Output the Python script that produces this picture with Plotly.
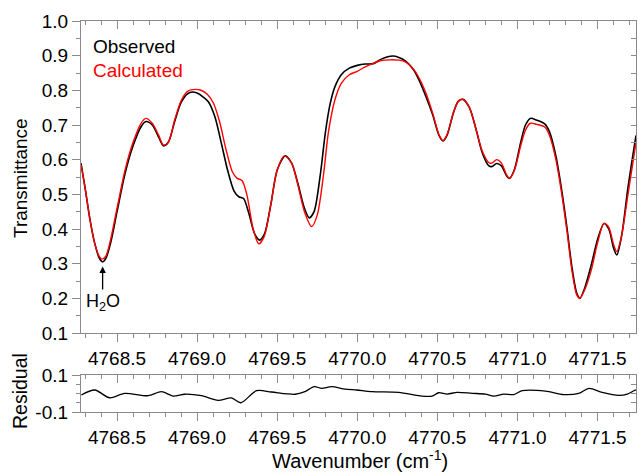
import plotly.graph_objects as go

# ---------------- data ----------------
obs_x = [4768.275, 4768.30, 4768.33, 4768.36, 4768.39, 4768.41, 4768.43, 4768.46, 4768.50, 4768.55,
         4768.60, 4768.65, 4768.68, 4768.72, 4768.76, 4768.79, 4768.82, 4768.86, 4768.90, 4768.94,
         4768.97, 4769.00, 4769.04, 4769.07, 4769.11, 4769.15, 4769.19, 4769.23, 4769.26, 4769.29,
         4769.32, 4769.36, 4769.39, 4769.42, 4769.46, 4769.50, 4769.55, 4769.59, 4769.63, 4769.67,
         4769.70, 4769.73, 4769.77, 4769.80, 4769.83, 4769.86, 4769.90, 4769.95, 4770.00, 4770.05,
         4770.10, 4770.15, 4770.22, 4770.26, 4770.30, 4770.35, 4770.39, 4770.43, 4770.47, 4770.51,
         4770.535, 4770.56, 4770.60, 4770.63, 4770.66, 4770.70, 4770.74, 4770.78, 4770.82, 4770.84,
         4770.87, 4770.90, 4770.93, 4770.95, 4770.98, 4771.02, 4771.05, 4771.08, 4771.12, 4771.17,
         4771.20, 4771.24, 4771.28, 4771.31, 4771.34, 4771.37, 4771.39, 4771.42, 4771.46, 4771.50,
         4771.54, 4771.57, 4771.60, 4771.62, 4771.65, 4771.69, 4771.74]
obs_y = [0.590, 0.520, 0.430, 0.360, 0.315, 0.305, 0.315, 0.360, 0.450, 0.560,
         0.640, 0.695, 0.710, 0.700, 0.665, 0.640, 0.650, 0.710, 0.765, 0.790,
         0.795, 0.792, 0.780, 0.767, 0.725, 0.650, 0.570, 0.510, 0.493, 0.488,
         0.450, 0.385, 0.368, 0.385, 0.470, 0.570, 0.611, 0.590, 0.530, 0.460,
         0.432, 0.450, 0.560, 0.676, 0.760, 0.810, 0.845, 0.864, 0.872, 0.876,
         0.877, 0.890, 0.899, 0.895, 0.885, 0.860, 0.825, 0.780, 0.730, 0.670,
         0.654, 0.670, 0.735, 0.768, 0.774, 0.750, 0.690, 0.620, 0.583, 0.580,
         0.589, 0.582, 0.555, 0.546, 0.570, 0.650, 0.700, 0.719, 0.714, 0.703,
         0.680, 0.610, 0.500, 0.400, 0.290, 0.215, 0.200, 0.230, 0.295, 0.370,
         0.416, 0.400, 0.345, 0.325, 0.380, 0.520, 0.670]

calc_x = [4768.275, 4768.30, 4768.33, 4768.36, 4768.39, 4768.405, 4768.43, 4768.46, 4768.50, 4768.55,
          4768.60, 4768.65, 4768.68, 4768.72, 4768.76, 4768.79, 4768.82, 4768.86, 4768.90, 4768.94,
          4768.97, 4769.02, 4769.06, 4769.10, 4769.14, 4769.18, 4769.22, 4769.25, 4769.28, 4769.31,
          4769.35, 4769.385, 4769.42, 4769.46, 4769.50, 4769.545, 4769.59, 4769.63, 4769.67, 4769.715,
          4769.75, 4769.79, 4769.82, 4769.86, 4769.90, 4769.95, 4770.00, 4770.05, 4770.10, 4770.15,
          4770.20, 4770.26, 4770.30, 4770.35, 4770.39, 4770.43, 4770.47, 4770.51, 4770.535, 4770.56,
          4770.60, 4770.63, 4770.66, 4770.70, 4770.74, 4770.78, 4770.82, 4770.84, 4770.87, 4770.90,
          4770.93, 4770.95, 4770.98, 4771.02, 4771.05, 4771.08, 4771.12, 4771.17, 4771.20, 4771.24,
          4771.28, 4771.31, 4771.34, 4771.37, 4771.39, 4771.42, 4771.46, 4771.50, 4771.54, 4771.57,
          4771.60, 4771.62, 4771.65, 4771.69, 4771.74]
calc_y = [0.585, 0.520, 0.430, 0.360, 0.320, 0.313, 0.322, 0.370, 0.460, 0.570,
          0.650, 0.705, 0.719, 0.705, 0.670, 0.642, 0.650, 0.715, 0.770, 0.797,
          0.802, 0.801, 0.790, 0.765, 0.710, 0.630, 0.565, 0.546, 0.540, 0.500,
          0.400, 0.357, 0.380, 0.470, 0.570, 0.611, 0.590, 0.525, 0.450, 0.407,
          0.440, 0.560, 0.680, 0.772, 0.820, 0.845, 0.855, 0.868, 0.878, 0.886,
          0.888, 0.887, 0.882, 0.862, 0.832, 0.790, 0.735, 0.672, 0.655, 0.672,
          0.735, 0.768, 0.774, 0.750, 0.690, 0.625, 0.592, 0.590, 0.600, 0.590,
          0.558, 0.546, 0.568, 0.640, 0.685, 0.705, 0.702, 0.694, 0.670, 0.600,
          0.490, 0.390, 0.280, 0.210, 0.200, 0.225, 0.280, 0.360, 0.416, 0.405,
          0.355, 0.335, 0.380, 0.500, 0.650]

res_x = [4768.277, 4768.361, 4768.454, 4768.548, 4768.694, 4768.777, 4768.850, 4768.923, 4769.027, 4769.131,
         4769.214, 4769.273, 4769.371, 4769.464, 4769.611, 4769.673, 4769.731, 4769.777, 4769.839, 4769.923,
         4769.996, 4770.092, 4770.258, 4770.404, 4770.467, 4770.508, 4770.561, 4770.623, 4770.717, 4770.800,
         4770.852, 4770.914, 4770.977, 4771.029, 4771.175, 4771.289, 4771.383, 4771.446, 4771.529, 4771.633,
         4771.686, 4771.727, 4771.740]
res_y = [-0.008, 0.019, -0.023, 0.001, -0.012, 0.010, -0.014, -0.004, -0.012, -0.037,
         -0.024, -0.050, 0.015, 0.008, -0.004, 0.010, 0.037, 0.028, 0.037, 0.024,
         0.019, 0.010, 0.006, -0.014, -0.014, 0.004, -0.003, 0.006, 0.001, -0.003,
         -0.014, -0.003, -0.006, 0.015, 0.013, -0.006, 0.001, 0.028, 0.006, -0.010,
         -0.003, 0.015, 0.020]

x_range = [4768.275, 4771.74]
x_ticks = [4768.5, 4769.0, 4769.5, 4770.0, 4770.5, 4771.0, 4771.5]
x_ticklabels = ["4768.5", "4769.0", "4769.5", "4770.0", "4770.5", "4771.0", "4771.5"]
t_range = [0.1, 1.0]
t_ticks = [0.1, 0.2, 0.3, 0.4, 0.5, 0.6, 0.7, 0.8, 0.9, 1.0]
t_ticklabels = ["0.1", "0.2", "0.3", "0.4", "0.5", "0.6", "0.7", "0.8", "0.9", "1.0"]
r_range = [-0.1, 0.1]
r_ticks = [-0.1, 0.1]
r_ticklabels = ["-0.1", "0.1"]

# ---------------- styling ----------------
FONT = "Liberation Sans, Arial, sans-serif"
AX = "#8a8a8a"
TICKFONT = dict(family=FONT, size=19, color="black")

W, H = 639, 473
L, R, T, B = 81, 3, 21, 61
plot_h = H - T - B
top_dom = [(412 - 333) / plot_h, 1.0]
res_dom = [0.0, (412 - 375) / plot_h]

fig = go.Figure()
fig.add_trace(go.Scatter(x=obs_x, y=obs_y, mode="lines", name="Observed",
                         line=dict(color="black", width=1.6, shape="spline", smoothing=0.8),
                         xaxis="x", yaxis="y", showlegend=False))
fig.add_trace(go.Scatter(x=calc_x, y=calc_y, mode="lines", name="Calculated",
                         line=dict(color="#ff0000", width=1.4, shape="spline", smoothing=0.8),
                         xaxis="x", yaxis="y", showlegend=False))
fig.add_trace(go.Scatter(x=res_x, y=res_y, mode="lines", name="Residual",
                         line=dict(color="black", width=1.3, shape="spline", smoothing=0.8),
                         xaxis="x2", yaxis="y2", showlegend=False))
# transparent helpers so the mirrored inner-tick axes get drawn
fig.add_trace(go.Scatter(x=obs_x, y=obs_y, mode="lines", opacity=0, hoverinfo="skip",
                         xaxis="x3", yaxis="y3", showlegend=False))
fig.add_trace(go.Scatter(x=res_x, y=res_y, mode="lines", opacity=0, hoverinfo="skip",
                         xaxis="x4", yaxis="y4", showlegend=False))

common_x = dict(range=x_range, showgrid=False, zeroline=False, showline=True, linecolor=AX,
                linewidth=1.2, tickcolor=AX, tickwidth=1.2)
common_y = dict(showgrid=False, zeroline=False, showline=True, linecolor=AX,
                linewidth=1.2, tickcolor=AX, tickwidth=1.2)

fig.update_layout(
    width=W, height=H,
    margin=dict(l=L, r=R, t=T, b=B),
    paper_bgcolor="white", plot_bgcolor="white",
    font=dict(family=FONT, size=19, color="black"),
    xaxis=dict(**common_x, anchor="y", domain=[0, 1], side="bottom",
               tickmode="array", tickvals=x_ticks, ticktext=x_ticklabels,
               ticks="outside", ticklen=8, tickfont=TICKFONT,
               minor=dict(dtick=0.1, tick0=4768.0, ticks="outside", ticklen=4, tickcolor=AX, tickwidth=1.2)),
    yaxis=dict(**common_y, range=t_range, anchor="x", domain=top_dom, side="left",
               tickmode="array", tickvals=t_ticks, ticktext=t_ticklabels,
               ticks="outside", ticklen=8, tickfont=TICKFONT,
               minor=dict(dtick=0.05, tick0=0, ticks="outside", ticklen=4, tickcolor=AX, tickwidth=1.2)),
    xaxis3=dict(**common_x, overlaying="x", anchor="y", side="top",
                tickmode="array", tickvals=x_ticks, showticklabels=False,
                ticks="inside", ticklen=8,
                minor=dict(dtick=0.1, tick0=4768.0, ticks="inside", ticklen=4, tickcolor=AX, tickwidth=1.2)),
    yaxis3=dict(**common_y, range=t_range, overlaying="y", anchor="x", side="right",
                dtick=0.05, tick0=0, showticklabels=False, ticks="inside", ticklen=5),
    xaxis2=dict(**common_x, anchor="y2", domain=[0, 1], side="bottom",
                tickmode="array", tickvals=x_ticks, ticktext=x_ticklabels,
                ticks="outside", ticklen=8, tickfont=TICKFONT,
                minor=dict(dtick=0.1, tick0=4768.0, ticks="outside", ticklen=4, tickcolor=AX, tickwidth=1.2)),
    yaxis2=dict(**common_y, range=r_range, anchor="x2", domain=res_dom, side="left",
                tickmode="array", tickvals=r_ticks, ticktext=r_ticklabels,
                ticks="outside", ticklen=8, tickfont=TICKFONT,
                minor=dict(dtick=0.05, tick0=0, ticks="outside", ticklen=4, tickcolor=AX, tickwidth=1.2)),
    xaxis4=dict(**common_x, overlaying="x2", anchor="y2", side="top",
                tickmode="array", tickvals=x_ticks, showticklabels=False,
                ticks="inside", ticklen=8,
                minor=dict(dtick=0.1, tick0=4768.0, ticks="inside", ticklen=4, tickcolor=AX, tickwidth=1.2)),
    yaxis4=dict(**common_y, range=r_range, overlaying="y2", anchor="x2", side="right",
                dtick=0.05, tick0=0, showticklabels=False, ticks="inside", ticklen=5),
)

def px_to_paper_x(px):
    return (px - L) / (W - L - R)

def py_to_paper_y(py):
    return (H - B - py) / plot_h

annotations = [
    dict(text="Observed", x=px_to_paper_x(91), y=py_to_paper_y(46), xref="paper", yref="paper",
         xanchor="left", yanchor="middle", showarrow=False, font=dict(family=FONT, size=19, color="black")),
    dict(text="Calculated", x=px_to_paper_x(91), y=py_to_paper_y(70), xref="paper", yref="paper",
         xanchor="left", yanchor="middle", showarrow=False, font=dict(family=FONT, size=19, color="#ff0000")),
    dict(text="Transmittance", x=px_to_paper_x(20), y=py_to_paper_y(178), xref="paper", yref="paper",
         xanchor="center", yanchor="middle", textangle=-90, showarrow=False,
         font=dict(family=FONT, size=19, color="black")),
    dict(text="Residual", x=px_to_paper_x(20), y=py_to_paper_y(391), xref="paper", yref="paper",
         xanchor="center", yanchor="middle", textangle=-90, showarrow=False,
         font=dict(family=FONT, size=19.5, color="black")),
    dict(text="Wavenumber (cm<sup>-1</sup>)", x=px_to_paper_x(360), y=py_to_paper_y(459),
         xref="paper", yref="paper", xanchor="center", yanchor="middle", showarrow=False,
         font=dict(family=FONT, size=20, color="black")),
    dict(text="H<sub>2</sub>O", x=4768.41, y=0.292, xref="x", yref="y",
         showarrow=True, ax=0, ay=36, arrowhead=2, arrowsize=1, arrowwidth=1.3, arrowcolor="black",
         font=dict(family=FONT, size=18, color="black")),
]
fig.update_layout(annotations=annotations)

fig.write_html("out.html")
